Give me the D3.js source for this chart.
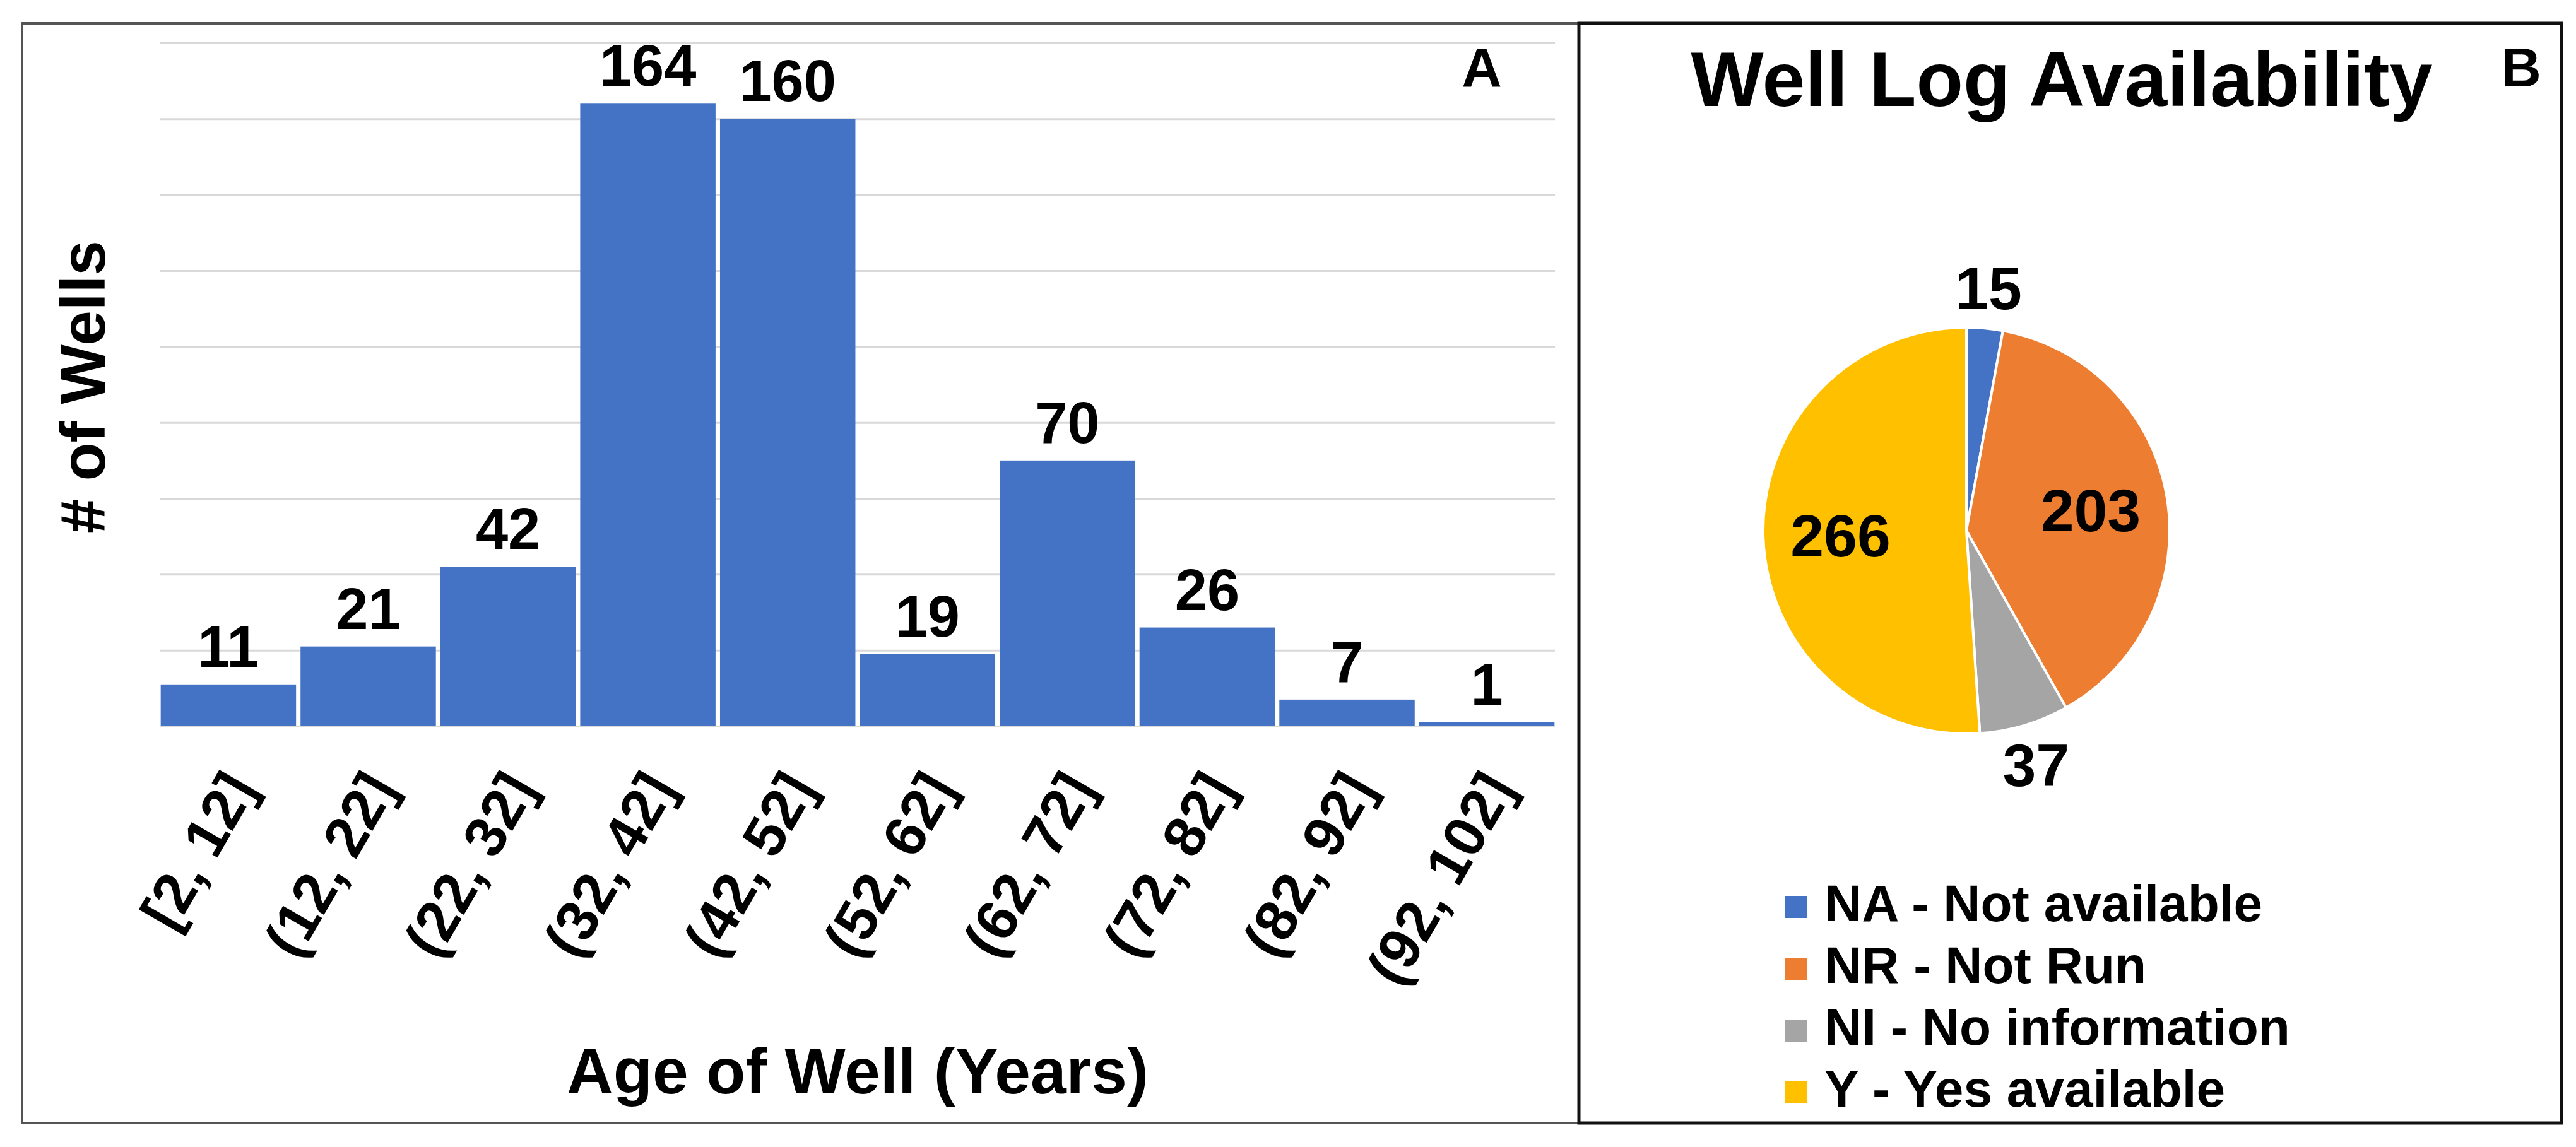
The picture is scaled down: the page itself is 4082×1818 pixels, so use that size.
<!DOCTYPE html>
<html>
<head>
<meta charset="utf-8">
<script src="https://cdn.jsdelivr.net/npm/d3@7"></script>
<style>
	body { margin: 0; background: #fff; }
	svg { display: block; font-family: "Liberation Sans", Arial, sans-serif; font-weight: bold; }
</style>
</head>
<body>
<svg id="chart" width="4082" height="1818"></svg>
<script>
// panel A - age of wells histogram
var ageBins = ['[2, 12]', '(12, 22]', '(22, 32]', '(32, 42]', '(42, 52]',
	'(52, 62]', '(62, 72]', '(72, 82]', '(82, 92]', '(92, 102]'];
var wellCounts = [11, 21, 42, 164, 160, 19, 70, 26, 7, 1];
var countTicks = [0, 20, 40, 60, 80, 100, 120, 140, 160, 180];

// panel B - well log availability pie
var logCodes = ['NA', 'NR', 'NI', 'Y'];
var logNames = ['NA - Not available', 'NR - Not Run', 'NI - No information', 'Y - Yes available'];
var logCounts = [15, 203, 37, 266];
var logColors = ['#4472C4', '#ED7D31', '#A5A5A5', '#FFC000'];

var svg = d3.select('#chart');

// frames
svg.append('rect')
	.attr('x', 35).attr('y', 37).attr('width', 2467).attr('height', 1743)
	.attr('fill', 'none').attr('stroke', '#555').attr('stroke-width', 4);
svg.append('rect')
	.attr('x', 2502).attr('y', 37).attr('width', 1557).attr('height', 1743)
	.attr('fill', 'none').attr('stroke', '#111').attr('stroke-width', 5);

var Bars = {

	left: 254, right: 2464, top: 68, bottom: 1151,

	draw: function() {
		var x = d3.scaleBand()
			.domain(ageBins)
			.range([this.left, this.right])
			.paddingInner(0.032)
			.paddingOuter(0.003);

		var y = d3.scaleLinear()
			.domain([0, 180])
			.range([this.bottom, this.top]);

		// gridlines only, no value labels on the axis
		var grid = svg.append('g')
			.attr('transform', 'translate(' + this.left + ',0)')
			.call(d3.axisLeft(y).tickValues(countTicks)
				.tickSize(-(this.right - this.left)).tickFormat(''));
		grid.select('.domain').remove();
		grid.selectAll('line').attr('stroke', '#d9d9d9').attr('stroke-width', 3);

		svg.append('g').selectAll('rect')
			.data(wellCounts)
			.enter()
			.append('rect')
			.attr('x', function(d, i) { return x(ageBins[i]); })
			.attr('y', function(d) { return y(d); })
			.attr('width', x.bandwidth())
			.attr('height', function(d) { return y(0) - y(d); })
			.attr('fill', '#4472C4');

		svg.append('g').selectAll('text')
			.data(wellCounts)
			.enter()
			.append('text')
			.attr('x', function(d, i) { return x(ageBins[i]) + x.bandwidth() / 2; })
			.attr('y', function(d) { return y(d) - 28; })
			.attr('text-anchor', 'middle')
			.attr('font-size', 92)
			.text(function(d) { return d; });

		var xAxis = svg.append('g')
			.attr('transform', 'translate(0,' + this.bottom + ')')
			.call(d3.axisBottom(x).tickSize(0).tickPadding(0));
		xAxis.select('.domain').remove();
		xAxis.selectAll('text')
			.attr('font-family', null)
			.attr('font-size', 92)
			.attr('fill', '#000')
			.attr('dy', null)
			.attr('y', null)
			.attr('text-anchor', 'end')
			.attr('transform', 'translate(46,98) rotate(-60)');

		svg.append('text')
			.attr('x', (this.left + this.right) / 2)
			.attr('y', 1733)
			.attr('text-anchor', 'middle')
			.attr('font-size', 102)
			.text('Age of Well (Years)');

		svg.append('text')
			.attr('transform', 'translate(166,' + ((this.top + this.bottom) / 2 + 4) + ') rotate(-90)')
			.attr('text-anchor', 'middle')
			.attr('font-size', 100)
			.text('# of Wells');

		svg.append('text')
			.attr('x', 2348).attr('y', 137)
			.attr('text-anchor', 'middle')
			.attr('font-size', 88)
			.text('A');
	}
};

var Pie = {

	cx: 3116, cy: 841, r: 322,

	draw: function() {
		var g = svg.append('g')
			.attr('transform', 'translate(' + this.cx + ',' + this.cy + ')');

		var slices = d3.pie().sort(null).value(function(d) { return d; })(logCounts);
		var arc = d3.arc().innerRadius(0).outerRadius(this.r);
		var inner = d3.arc().innerRadius(this.r * 0.62).outerRadius(this.r * 0.62);
		var outer = d3.arc().innerRadius(this.r * 1.2).outerRadius(this.r * 1.2);

		g.selectAll('path')
			.data(slices)
			.enter()
			.append('path')
			.attr('d', arc)
			.attr('fill', function(d, i) { return logColors[i]; })
			.attr('stroke', '#fff')
			.attr('stroke-width', 4);

		// small slices get their label outside
		g.selectAll('text')
			.data(slices)
			.enter()
			.append('text')
			.attr('transform', function(d) {
				var small = (d.endAngle - d.startAngle) < 0.5;
				var c = (small ? outer : inner).centroid(d);
				return 'translate(' + c[0] + ',' + c[1] + ')';
			})
			.attr('dy', '0.36em')
			.attr('text-anchor', 'middle')
			.attr('font-size', 95)
			.text(function(d) { return d.data; });

		svg.append('text')
			.attr('x', 3267).attr('y', 168)
			.attr('text-anchor', 'middle')
			.attr('font-size', 122)
			.text('Well Log Availability');

		svg.append('text')
			.attr('x', 3995).attr('y', 137)
			.attr('text-anchor', 'middle')
			.attr('font-size', 88)
			.text('B');

		var legend = svg.append('g').selectAll('g')
			.data(logCodes)
			.enter()
			.append('g')
			.attr('transform', function(d, i) { return 'translate(2829,' + (1460 + i * 98) + ')'; });

		legend.append('rect')
			.attr('x', 0).attr('y', -40)
			.attr('width', 35).attr('height', 35)
			.attr('fill', function(d, i) { return logColors[i]; });

		legend.append('text')
			.attr('x', 62).attr('y', 0)
			.attr('font-size', 82)
			.text(function(d, i) { return logNames[i]; });
	}
};

Bars.draw();
Pie.draw();
</script>
</body>
</html>
